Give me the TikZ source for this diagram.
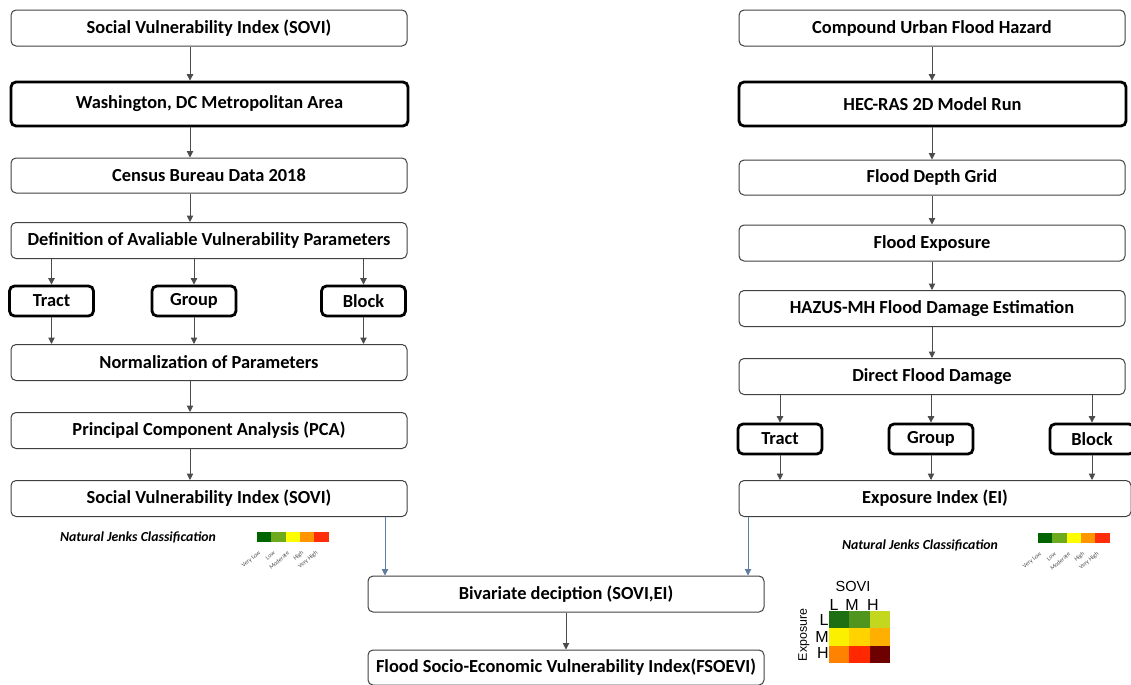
\documentclass[tikz,border=0pt]{standalone}
\usepackage{fontspec}
\setmainfont{Carlito}
\newfontfamily\arialfont{Liberation Sans}
\usetikzlibrary{arrows.meta, positioning}
\definecolor{arrowblue}{RGB}{95,125,160}
% Jenks classes
\definecolor{jA}{RGB}{0,100,0}
\definecolor{jB}{RGB}{110,170,30}
\definecolor{jC}{RGB}{255,255,0}
\definecolor{jD}{RGB}{255,150,0}
\definecolor{jE}{RGB}{255,45,10}
% bivariate matrix
\definecolor{mLL}{RGB}{30,110,20}
\definecolor{mLM}{RGB}{80,150,30}
\definecolor{mLH}{RGB}{195,215,30}
\definecolor{mML}{RGB}{250,240,0}
\definecolor{mMM}{RGB}{255,210,0}
\definecolor{mMH}{RGB}{255,175,0}
\definecolor{mHL}{RGB}{255,130,0}
\definecolor{mHM}{RGB}{255,40,0}
\definecolor{mHH}{RGB}{110,0,0}
\tikzstyle{rbox} = [rectangle,
			rounded corners=2.5pt,
			draw=black!75,
			line width=0.5pt,
			text centered,
			inner sep=0pt,
			font=\bfseries\fontsize{9.2}{10}\selectfont,
			minimum width=198pt,
			minimum height=18pt]
\tikzstyle{tbox} = [rbox, draw=black, line width=1.4pt]
\tikzstyle{lvlbox} = [tbox, minimum width=42pt, minimum height=15pt]
\tikzstyle{line} = [draw, black!70, line width=0.45pt, -{Triangle[length=3.2pt,width=3.2pt]}]
\tikzstyle{bline} = [line, arrowblue]
\tikzstyle{jenks} = [font=\bfseries\itshape\fontsize{6.9}{7}\selectfont]
\tikzstyle{jlab} = [font=\fontsize{3}{3}\selectfont, rotate=40, anchor=east, inner sep=0pt, text=black!70]
\tikzstyle{mlab} = [font=\arialfont\fontsize{8}{8}\selectfont, inner sep=0pt]

\begin{document}
\begin{tikzpicture}[x=0.5pt, y=-0.5pt]
	\useasboundingbox (0,0) rectangle (1131,685);
	% left column: social vulnerability
	\node [rbox] (sovi-top) at (209,28) {Social Vulnerability Index (SOVI)};
	\node [tbox, minimum width=198.5pt, minimum height=22pt] (metro) at (209.5,104) {Washington, DC Metropolitan Area};
	\node [rbox, minimum height=17.5pt] (census) at (209,175.5) {Census Bureau Data 2018};
	\node [rbox] (params) at (209,240.5) {Definition of Avaliable Vulnerability Parameters};
	\node [lvlbox] (tract-l) at (51.5,301) {Tract};
	\node [lvlbox] (group-l) at (194,301) {Group};
	\node [lvlbox] (block-l) at (363.5,301) {Block};
	\node [rbox] (norm) at (209,362.5) {Normalization of Parameters};
	\node [rbox] (pca) at (209,430.5) {Principal Component Analysis (PCA)};
	\node [rbox] (sovi) at (209,498.5) {Social Vulnerability Index (SOVI)};
	\coordinate (lcol) at (190,0);
	\path [line] (sovi-top.south -| lcol) -- (metro.north -| lcol);
	\path [line] (metro.south -| lcol) -- (census.north -| lcol);
	\path [line] (census.south -| lcol) -- (params.north -| lcol);
	\foreach \lvl in {tract-l, group-l, block-l} {
		\path [line] (params.south -| \lvl) -- (\lvl.north);
		\path [line] (\lvl.south) -- (norm.north -| \lvl);
	}
	\path [line] (norm.south -| lcol) -- (pca.north -| lcol);
	\path [line] (pca.south -| lcol) -- (sovi.north -| lcol);

	% right column: flood hazard
	\node [rbox, minimum width=193pt] (hazard) at (932,28) {Compound Urban Flood Hazard};
	\node [tbox, minimum width=193.5pt, minimum height=22pt] (hecras) at (932.5,104) {HEC-RAS 2D Model Run};
	\node [rbox, minimum width=193pt, minimum height=17.5pt] (depth) at (932,177.5) {Flood Depth Grid};
	\node [rbox, minimum width=193pt] (exposure) at (932,243) {Flood Exposure};
	\node [rbox, minimum width=193pt] (hazus) at (932,308.5) {HAZUS-MH Flood Damage Estimation};
	\node [rbox, minimum width=193pt] (damage) at (932,376.5) {Direct Flood Damage};
	\node [lvlbox] (tract-r) at (780,439) {Tract};
	\node [lvlbox] (group-r) at (931,439) {Group};
	\node [lvlbox] (block-r) at (1092,439) {Block};
	\node [rbox, minimum width=196pt] (ei) at (935,498.5) {Exposure Index (EI)};
	\coordinate (rcol) at (932,0);
	\path [line] (hazard.south -| rcol) -- (hecras.north -| rcol);
	\path [line] (hecras.south -| rcol) -- (depth.north -| rcol);
	\path [line] (depth.south -| rcol) -- (exposure.north -| rcol);
	\path [line] (exposure.south -| rcol) -- (hazus.north -| rcol);
	\path [line] (hazus.south -| rcol) -- (damage.north -| rcol);
	\foreach \lvl in {tract-r, group-r, block-r} {
		\path [line] (damage.south -| \lvl) -- (\lvl.north);
		\path [line] (\lvl.south) -- (ei.north -| \lvl);
	}

	% bottom: combination
	\node [rbox] (bivar) at (566,594) {Bivariate deciption (SOVI,EI)};
	\node [rbox, minimum height=17.5pt] (fsoevi) at (566,667.5) {Flood Socio-Economic Vulnerability Index(FSOEVI)};
	\coordinate (lin) at (385,0);
	\coordinate (rin) at (748,0);
	\path [bline] (sovi.south -| lin) -- (bivar.north -| lin);
	\path [bline] (ei.south -| rin) -- (bivar.north -| rin);
	\path [line] (bivar.south) -- (fsoevi.north);

	% Jenks legends
	\node [jenks] (jenks-l) at (138,537) {Natural Jenks Classification};
	\node [jenks] (jenks-r) at (920,545) {Natural Jenks Classification};
	\foreach \x/\y in {257/532, 1038/533} {
		\foreach \c/\lab [count=\i] in {jA/Very Low, jB/Low, jC/Moderate, jD/High, jE/Very High} {
			\fill [\c] ({\x+(\i-1)*14.3},\y) rectangle ++(14.3,10);
			\node [jlab] at ({\x+(\i-0.5)*14.3-4},{\y+20}) {\lab};
		}
	}

	% bivariate matrix
	\node [mlab, font=\arialfont\fontsize{7.3}{8}\selectfont] (m-sovi) at (853,586) {SOVI};
	\node [mlab, rotate=90, font=\arialfont\fontsize{6.2}{7}\selectfont] (m-exp) at (804,635) {Exposure};
	\foreach \r/\row in {1/L, 2/M, 3/H}
		\foreach \c/\col in {1/L, 2/M, 3/H}
			\fill [m\row\col] ({829+(\c-1)*20.3},{611+(\r-1)*17.3}) rectangle ++(20.3,17.3);
	\foreach \t/\x in {L/834, M/852, H/873}
		\node [mlab] at (\x,605) {\t};
	\foreach \t/\y in {L/620, M/637, H/653}
		\node [mlab, anchor=east] at (829,\y) {\t};
\end{tikzpicture}
\end{document}
